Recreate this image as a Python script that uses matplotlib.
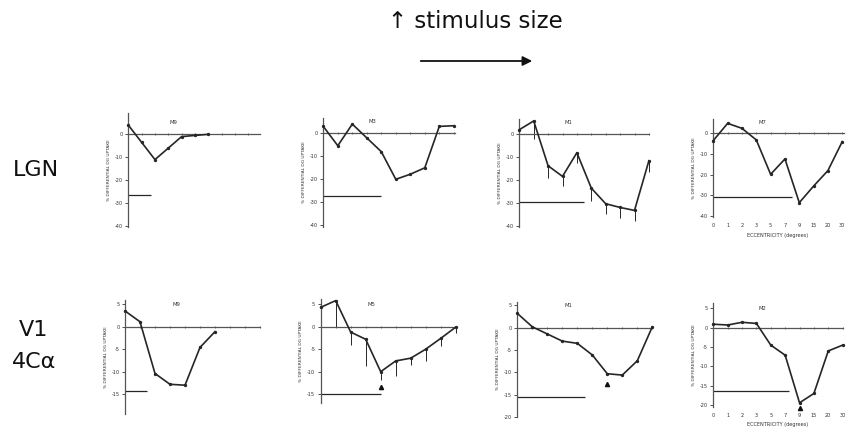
import matplotlib
matplotlib.use("Agg")
import matplotlib.pyplot as plt

W, H = 847, 432
plt.rcParams['font.family'] = ['DejaVu Sans']

# ---------------- data ----------------
ecc_labels = ['0', '1', '2', '3', '5', '7', '9', '15', '20', '30']

titles = ['M9', 'M3', 'M1', 'M7', 'M9', 'M5', 'M1', 'M2']

lgn_m9 = [4, -3.5, -11, -6, -1, -0.5, 0]
lgn_m3 = [3, -5.4, 4, -2, -8, -20, -17.8, -15, 3, 3.3]
lgn_m1 = [2, 5.8, -13.7, -18.3, -8, -23.4, -30.2, -31.8, -33.1, -11.5]
lgn_m1_err = [None, -2, -19, -22.4, -12.6, -29.2, -34.6, -36.2, -37.9, -16.3]
lgn_m7 = [-3.5, 4.8, 2.4, -3.2, -19.8, -12.4, -33.5, -25.5, -18, -4]

v1_m9 = [3.5, 1.1, -10.4, -12.8, -13, -4.6, -1.1]
v1_m5 = [4.3, 5.8, -1.2, -2.8, -10, -7.6, -7.0, -5.0, -2.6, -0.1]
v1_m5_err = [None, -0.1, -4.1, -8.7, -11.9, -11.0, -8.5, -7.7, -4.3, -1.3]
v1_m1 = [3.2, 0.2, -1.4, -3, -3.5, -6.1, -10.3, -10.6, -7.4, 0.2]
v1_m2 = [0.9, 0.7, 1.4, 1.1, -4.5, -7.1, -19.4, -17, -6, -4.5]

series = [lgn_m9, lgn_m3, lgn_m1, lgn_m7, v1_m9, v1_m5, v1_m1, v1_m2]
errs = [None, None, lgn_m1_err, None, None, v1_m5_err, None, None]

# reference (baseline) level and its extent in eccentricity index
ref_level = [-26.4, -27.4, -29.6, -30.6, -14.2, -15.0, -15.6, -16.3]
ref_extent = [1.7, 4.0, 4.5, 5.5, 1.45, 4.0, 4.5, 5.3]

# arrows marking peak (index, value)
arrows = [None, None, None, None, None, (4, -13.4), (6, -12.7), (6, -20.7)]

lgn_ticks = [0, -10, -20, -30, -40]
v1_ticks_a = [5, 0, -5, -10, -15]
v1_ticks_b = [5, 0, -5, -10, -15, -20]
yticks = [lgn_ticks, lgn_ticks, lgn_ticks, lgn_ticks,
          v1_ticks_a, v1_ticks_a, v1_ticks_b, v1_ticks_b]

# ---------------- layout (pixel geometry of each panel) ----------------
geom = [
    dict(x0=128.3, dx=13.33, y0=134.3, dy=2.30, ytop=9.1, ybot=-40.2, xend=9.9),
    dict(x0=323.3, dx=14.5, y0=133.3, dy=2.30, ytop=6.5, ybot=-40.6, xend=9.1),
    dict(x0=519.3, dx=14.4, y0=134.3, dy=2.30, ytop=6.5, ybot=-40.4, xend=9.0),
    dict(x0=713.3, dx=14.33, y0=133.3, dy=2.07, ytop=6.8, ybot=-40.3, xend=9.1),
    dict(x0=125.0, dx=15.0, y0=326.7, dy=4.50, ytop=5.9, ybot=-19.3, xend=9.0),
    dict(x0=320.7, dx=15.0, y0=326.7, dy=4.50, ytop=6.1, ybot=-17.0, xend=9.05),
    dict(x0=517.3, dx=15.0, y0=327.7, dy=4.47, ytop=5.8, ybot=-19.9, xend=9.0),
    dict(x0=713.3, dx=14.37, y0=327.7, dy=3.87, ytop=6.3, ybot=-20.4, xend=9.05),
]
show_xlabels = [False, False, False, True, False, False, False, True]

LINE = '#262626'
AXC = '#555555'
TXT = '#333333'

fig = plt.figure(figsize=(W / 100, H / 100), dpi=100)

for k in range(8):
    g = geom[k]
    xa, xb = -0.5, 10.5
    ya, yb = g['ybot'] - 3, g['ytop'] + 3
    left = (g['x0'] + xa * g['dx']) / W
    width = (xb - xa) * g['dx'] / W
    bottom = 1 - (g['y0'] - ya * g['dy']) / H
    height = (yb - ya) * g['dy'] / H
    ax = fig.add_axes([left, bottom, width, height])
    ax.set_xlim(xa, xb)
    ax.set_ylim(ya, yb)
    ax.patch.set_alpha(0)
    for s in ['top', 'right']:
        ax.spines[s].set_visible(False)
    ax.spines['left'].set_position(('data', 0))
    ax.spines['left'].set_bounds(g['ybot'], g['ytop'])
    ax.spines['bottom'].set_position(('data', 0))
    ax.spines['bottom'].set_bounds(0, g['xend'])
    for s in ['left', 'bottom']:
        ax.spines[s].set_color(AXC)
        ax.spines[s].set_linewidth(0.9)
    ax.set_yticks(yticks[k])
    ax.set_yticklabels([str(t) for t in yticks[k]])
    ax.tick_params(axis='y', length=2, width=0.6, pad=2, labelsize=3.6,
                   colors=TXT)
    ax.set_xticks(range(10))
    ax.tick_params(axis='x', direction='inout', length=2, width=0.6,
                   labelbottom=False, colors=AXC)

    vals = series[k]
    xs = list(range(len(vals)))
    ax.plot(xs, vals, color=LINE, lw=1.2, marker='o', ms=1.4,
            clip_on=False, zorder=3)
    if errs[k] is not None:
        ex = [i for i, e in enumerate(errs[k]) if e is not None]
        ylo = [errs[k][i] for i in ex]
        yhi = [vals[i] for i in ex]
        ax.vlines(ex, ylo, yhi, color=LINE, lw=0.7, clip_on=False)
    ax.hlines(ref_level[k], 0, ref_extent[k], color=LINE, lw=0.9,
              clip_on=False)
    if arrows[k] is not None:
        ax.plot([arrows[k][0]], [arrows[k][1]], marker='^', ms=3,
                color='#111111', clip_on=False, ls='none')
    ax.text(3.4, 5.0, titles[k], fontsize=3.8, ha='center', va='center',
            color=TXT)
    ax.annotate('% DIFFERENTIAL DG UPTAKE', xy=(0, (g['ytop'] + g['ybot']) / 2),
                xytext=(-14, 0), textcoords='offset points', rotation=90,
                ha='center', va='center', fontsize=3.2, color=TXT)
    if show_xlabels[k]:
        ylab = g['ybot'] - 4.2 if k == 3 else g['ybot'] - 2.3
        for i, lab in enumerate(ecc_labels):
            ax.text(i, ylab, lab, fontsize=3.6, ha='center', va='center',
                    color=TXT)
        ax.text(4.5, ylab - (4.8 if k == 3 else 2.4), 'ECCENTRICITY (degrees)',
                fontsize=3.6, ha='center', va='center', color=TXT)

# header and row labels
fig.text(475 / W, 1 - 22 / H, '\u2191 stimulus size', fontsize=16.5,
         ha='center', va='center', color='#111111')
fig.add_artist(matplotlib.patches.FancyArrowPatch(
    (418 / W, 1 - 61 / H), (535 / W, 1 - 61 / H), transform=fig.transFigure,
    arrowstyle='-|>', mutation_scale=14, lw=1.3, color='#111111'))
fig.text(36 / W, 1 - 170 / H, 'LGN', fontsize=16, ha='center', va='center',
         color='#111111')
fig.text(34 / W, 1 - 330 / H, 'V1', fontsize=16, ha='center', va='center',
         color='#111111')
fig.text(34 / W, 1 - 362 / H, '4C\u03b1', fontsize=16, ha='center',
         va='center', color='#111111')

fig.savefig('out.png', dpi=100)
